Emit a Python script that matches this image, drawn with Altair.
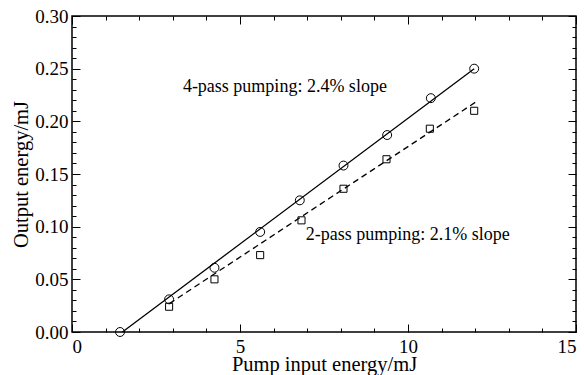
import altair as alt
import pandas as pd

# ---- data ----
pump_4pass = [1.43, 2.89, 4.24, 5.60, 6.78, 8.08, 9.38, 10.68, 11.97]
out_4pass = [0.000, 0.031, 0.061, 0.095, 0.125, 0.158, 0.187, 0.222, 0.250]
pump_2pass = [2.89, 4.24, 5.60, 6.83, 8.08, 9.36, 10.65, 11.97]
out_2pass = [0.024, 0.050, 0.073, 0.106, 0.136, 0.164, 0.193, 0.210]

fit4_x = [1.50, 11.97]
fit4_y = [0.000, 0.250]
fit2_x = [2.90, 12.00]
fit2_y = [0.027, 0.218]

note_text = ["4-pass pumping: 2.4% slope", "2-pass pumping: 2.1% slope"]
note_x = [3.30, 6.96]
note_y = [0.228, 0.0873]

x_major = [0, 5, 10, 15]
x_minor = [1, 2, 3, 4, 6, 7, 8, 9, 11, 12, 13, 14]
y_major = [0.00, 0.05, 0.10, 0.15, 0.20, 0.25, 0.30]
y_minor = [0.01, 0.02, 0.03, 0.04, 0.06, 0.07, 0.08, 0.09, 0.11, 0.12, 0.13,
           0.14, 0.16, 0.17, 0.18, 0.19, 0.21, 0.22, 0.23, 0.24, 0.26, 0.27,
           0.28, 0.29]

x_title = "Pump input energy/mJ"
y_title = "Output energy/mJ"

FONT = "Liberation Serif"

df4 = pd.DataFrame({"x": pump_4pass, "y": out_4pass})
df2 = pd.DataFrame({"x": pump_2pass, "y": out_2pass})
dfit4 = pd.DataFrame({"x": fit4_x, "y": fit4_y})
dfit2 = pd.DataFrame({"x": fit2_x, "y": fit2_y})
dnote = pd.DataFrame({"x": note_x, "y": note_y, "t": note_text})

xs = alt.Scale(domain=[0, 15], nice=False, zero=False)
ys = alt.Scale(domain=[0, 0.30], nice=False, zero=False)

common = dict(grid=False, domain=False, tickColor="black", tickWidth=1,
              labelColor="black", labelFont=FONT, labelFontSize=19,
              titleFont=FONT, titleFontSize=20.5, titleColor="black",
              titleFontWeight="normal")


def ax(orient, values, size, labels, title=None, fmt=None, **kw):
    opts = dict(common)
    opts.update(orient=orient, values=values, tickSize=size, offset=-size,
                labels=labels, title=title)
    if fmt:
        opts["format"] = fmt
    opts.update(kw)
    return alt.Axis(**opts)


x_axes = [
    ax("bottom", x_major, 8, True, x_title, "d", labelPadding=5,
       titleY=46, titleBaseline="alphabetic"),
    ax("bottom", x_minor, 4, False),
    ax("top", x_major, 8, False),
    ax("top", x_minor, 4, False),
]
y_axes = [
    ax("left", y_major, 8, True, y_title, ".2f", labelPadding=4,
       titleX=-53, titleBaseline="alphabetic"),
    ax("left", y_minor, 4, False),
    ax("right", y_major, 8, False),
    ax("right", y_minor, 4, False),
]

axis_layers = [
    alt.Chart(df4).mark_point(opacity=0).encode(
        x=alt.X("x:Q", scale=xs, axis=xa),
        y=alt.Y("y:Q", scale=ys, axis=ya),
    )
    for xa, ya in zip(x_axes, y_axes)
]

X = alt.X("x:Q", scale=xs, axis=None)
Y = alt.Y("y:Q", scale=ys, axis=None)

line4 = alt.Chart(dfit4).mark_line(color="black", strokeWidth=1.3).encode(x=X, y=Y)
line2 = alt.Chart(dfit2).mark_line(color="black", strokeWidth=1.3,
                                   strokeDash=[6, 4]).encode(x=X, y=Y)
pts4 = alt.Chart(df4).mark_point(shape="circle", filled=False, size=80,
                                 stroke="black", strokeWidth=1,
                                 opacity=1).encode(x=X, y=Y)
pts2 = alt.Chart(df2).mark_point(shape="square", filled=False, size=50,
                                 stroke="black", strokeWidth=1,
                                 opacity=1).encode(x=X, y=Y)
notes = alt.Chart(dnote).mark_text(align="left", baseline="alphabetic",
                                   font=FONT, fontSize=18,
                                   color="black").encode(x=X, y=Y, text="t:N")

chart = alt.layer(*axis_layers, line4, line2, pts4, pts2, notes).resolve_axis(
    x="independent", y="independent"
).properties(
    width=504, height=316,
    autosize=alt.AutoSizeParams(type="none"),
    padding={"left": 72, "top": 16, "right": 8, "bottom": 43},
    background="white",
).configure_view(stroke="black", strokeWidth=1.5)

chart.save("out.html", embed_options={"renderer": "svg", "actions": False})
